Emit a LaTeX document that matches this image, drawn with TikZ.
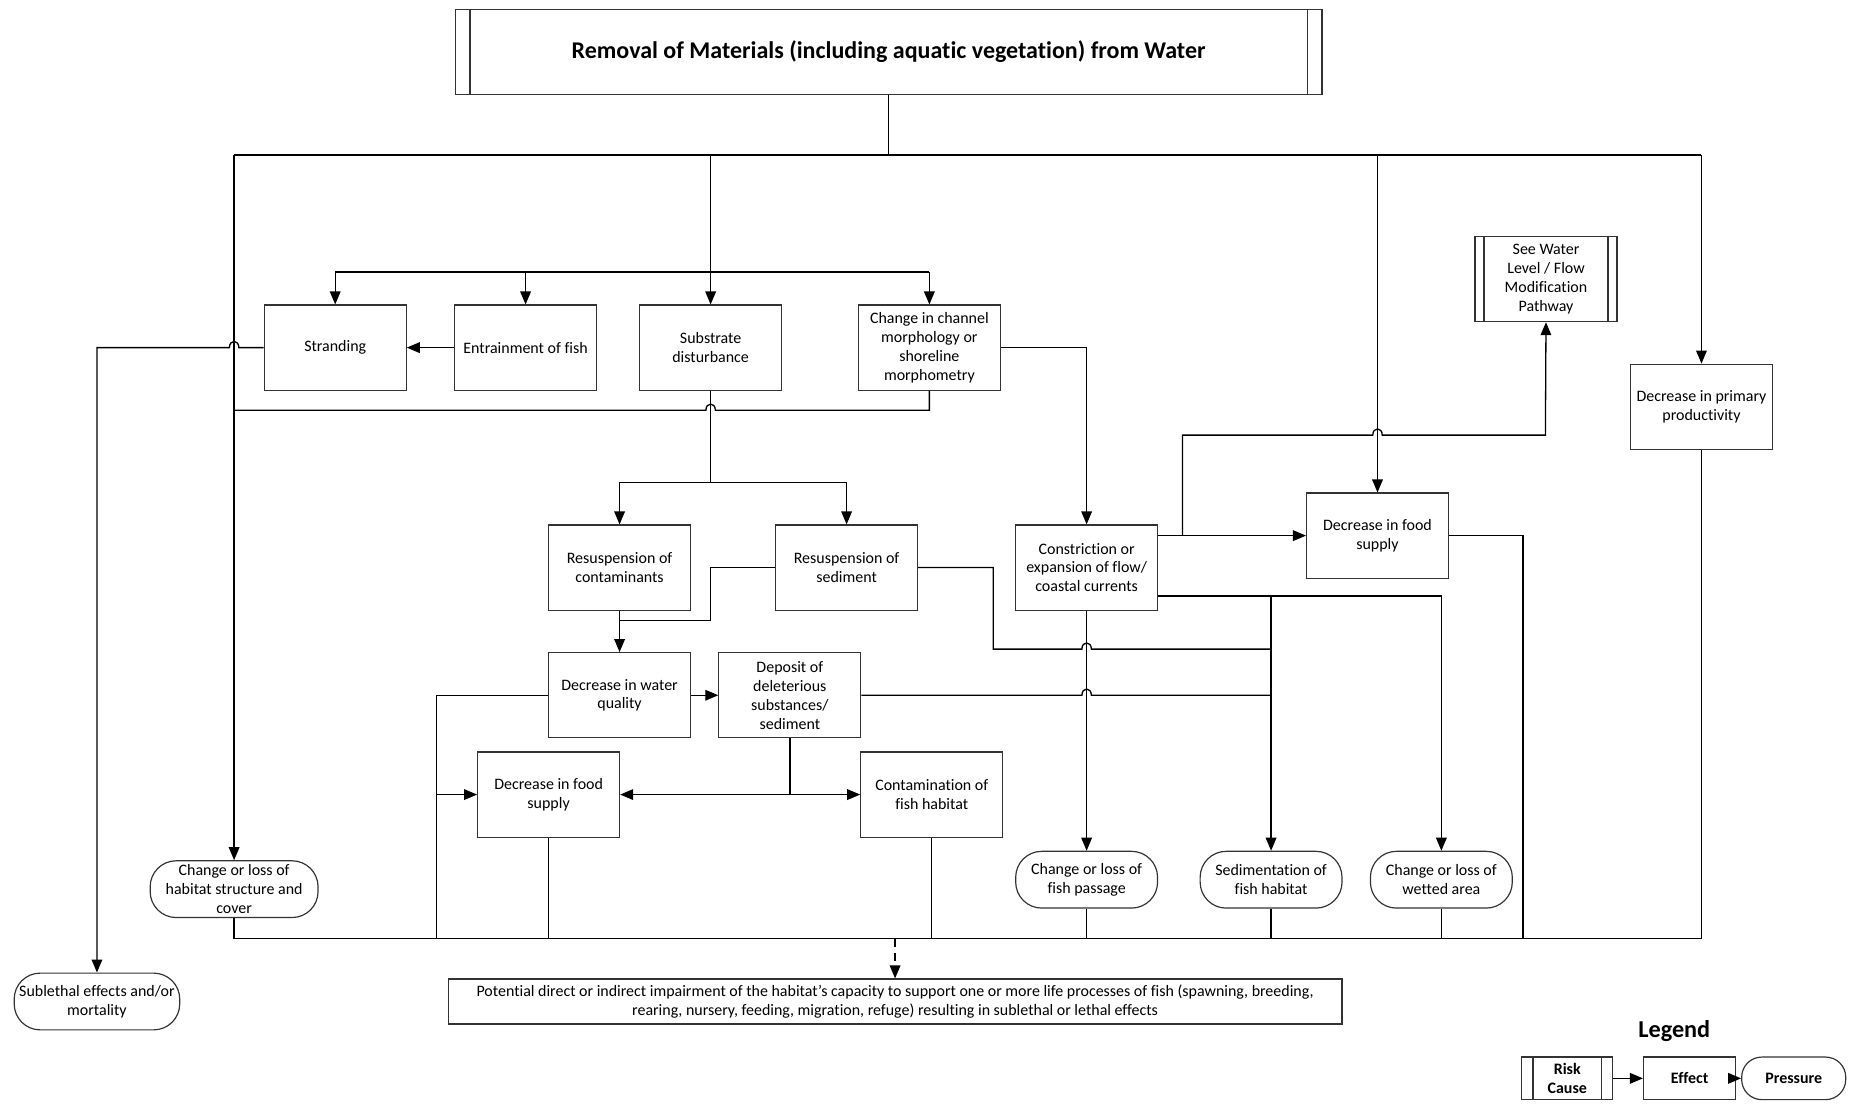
\documentclass[tikz,border=0pt]{standalone}
\usepackage{fontspec}
\setmainfont{Carlito}[Ligatures=CommonOff]
\usetikzlibrary{arrows.meta}
\begin{document}
\begin{tikzpicture}[x=1pt,y=-1pt]
\tikzset{
 base/.style={draw=black!80, line width=1pt, align=center, font=\fontsize{13.5}{16}\selectfont, inner sep=2pt},
 eff/.style={base, minimum width=120pt, minimum height=72pt},
 press/.style={base, rounded corners=22pt, minimum width=120pt, minimum height=48pt},
 ln/.style={line width=1.1pt, black},
 arr/.style={ln, -{Triangle[length=11pt,width=9pt]}},
 bar/.style={draw=black!80, line width=1pt},
}
\useasboundingbox (0,0) rectangle (1568,944);
% title
\node[base, minimum width=733pt, minimum height=72pt, font=\bfseries\fontsize{20.3}{22}\selectfont] (title) at (751.5,44) {Removal of Materials (including aquatic vegetation) from Water};
\draw[bar] ([xshift=13pt]title.north west) -- ([xshift=13pt]title.south west);
\draw[bar] ([xshift=-13pt]title.north east) -- ([xshift=-13pt]title.south east);
% effects
\node[eff] (stranding) at (283.5,294) {Stranding};
\node[eff] (entrain) at (444.5,294) {Entrainment of fish};
\node[eff] (substrate) at (601,294) {Substrate\\disturbance};
\node[eff] (channel) at (786,294) {Change in channel\\morphology or\\shoreline\\morphometry};
\node[eff] (seewater) at (1307.5,236) {See Water\\Level / Flow\\Modification\\Pathway};
\draw[bar] ([xshift=8pt]seewater.north west) -- ([xshift=8pt]seewater.south west);
\draw[bar] ([xshift=-8pt]seewater.north east) -- ([xshift=-8pt]seewater.south east);
\node[eff] (primary) at (1439,344) {Decrease in primary\\productivity};
\node[eff] (rescont) at (524,480) {Resuspension of\\contaminants};
\node[eff] (ressed) at (716,480) {Resuspension of\\sediment};
\node[eff] (constr) at (919,480) {Constriction or\\expansion of flow/\\coastal currents};
\node[eff] (foodR) at (1165,453) {Decrease in food\\supply};
\node[eff] (wq) at (524,588) {Decrease in water\\quality};
\node[eff] (deposit) at (668,588) {Deposit of\\deleterious\\substances/\\sediment};
\node[eff] (foodL) at (464,672) {Decrease in food\\supply};
\node[eff] (contam) at (788,672) {Contamination of\\fish habitat};
% pressures
\node[press, minimum width=142pt] (habstr) at (198,752) {Change or loss of\\habitat structure and\\cover};
\node[press] (passage) at (919,744) {Change or loss of\\fish passage};
\node[press] (sedim) at (1075,744) {Sedimentation of\\fish habitat};
\node[press] (wetted) at (1219,744) {Change or loss of\\wetted area};
\node[press, minimum width=140pt] (sublethal) at (82,847) {Sublethal effects and/or\\mortality};
\node[base, minimum width=756pt, minimum height=38pt] (potential) at (757,847) {Potential direct or indirect impairment of the habitat’s capacity to support one or more life processes of fish (spawning, breeding,\\rearing, nursery, feeding, migration, refuge) resulting in sublethal or lethal effects};
% coordinates
\coordinate (busL) at (198,131);
\coordinate (busR) at (1439,131);
\coordinate (brY) at (0,230);
\coordinate (sj) at (601,408);
\coordinate (busB) at (0,794);
% top bus
\draw[ln] (title.south) -- (title.south |- busL);
\draw[ln] (busL) -- (busR);
\draw[arr] (busL) -- (habstr.north);
\draw[arr] (substrate.north |- busL) -- (substrate.north);
\draw[arr] (foodR.north |- busL) -- (foodR.north);
\draw[arr] (busR) -- (primary.north);
\draw[ln] (stranding.north |- brY) -- (channel.north |- brY);
\draw[arr] (stranding.north |- brY) -- (stranding.north);
\draw[arr] (entrain.north |- brY) -- (entrain.north);
\draw[arr] (channel.north |- brY) -- (channel.north);
% stranding
\draw[arr] (entrain.west) -- (stranding.east);
\draw[arr] (stranding.west) -- (202,294) .. controls (202,287) and (194,287) .. (194,294) -- (sublethal.north |- stranding.west) -- (sublethal.north);
% channel
\draw[ln] (channel.south) -- (786,347) -- (605,347) .. controls (605,340) and (597,340) .. (597,347) -- (198,347);
\draw[arr] (channel.east) -| (constr.north);
% substrate
\draw[ln] (substrate.south) -- (sj);
\draw[arr] (sj) -| (rescont.north);
\draw[arr] (sj) -| (ressed.north);
\draw[arr] (rescont.south) -- (wq.north);
\draw[ln] (ressed.west) -- (601,480) -- (601,525) -- (524,525);
\draw[ln] (ressed.east) -- (840,480) -- (840,549) -- (915,549) .. controls (915,542) and (923,542) .. (923,549) -- (1075,549);
% water quality
\draw[arr] (wq.east) -- (deposit.west);
\draw[ln] (wq.west) -- (369,588) -- (369,794);
\draw[arr] (369,672) -- (foodL.west);
\draw[ln] (deposit.south) -- (668,672);
\draw[arr] (668,672) -- (foodL.east);
\draw[arr] (668,672) -- (contam.west);
\draw[ln] (deposit.east) -- (915,588) .. controls (915,581) and (923,581) .. (923,588) -- (1075,588);
% constriction
\draw[arr] (constr.north east |- foodR.west) -- (foodR.west);
\draw[arr] (1000,453) -- (1000,368) -- (1161,368) .. controls (1161,361) and (1169,361) .. (1169,368) -- (1307,368) -- (seewater.south);
\draw[arr] (979,504) -- (1219,504) -- (wetted.north);
\draw[arr] (1075,504) -- (sedim.north);
\draw[arr] (constr.south) -- (passage.north);
% right side
\draw[ln] (foodR.east) -- (1288,453) -- (1288,794);
\draw[ln] (primary.south) -- (1439,794);
% bottom bus
\draw[ln] (198,794) -- (1439,794);
\draw[ln] (habstr.south) -- (habstr.south |- busB);
\draw[ln] (foodL.south) -- (foodL.south |- busB);
\draw[ln] (contam.south) -- (contam.south |- busB);
\draw[ln] (passage.south) -- (passage.south |- busB);
\draw[ln] (sedim.south) -- (sedim.south |- busB);
\draw[ln] (wetted.south) -- (wetted.south |- busB);
\draw[arr, dash pattern=on 7pt off 5pt] (potential.north |- busB) -- (potential.north);
% legend
\node[font=\bfseries\fontsize{20.5}{22}\selectfont] (legend) at (1416,872) {Legend};
\node[base, font=\bfseries\fontsize{13.5}{16}\selectfont, minimum width=77pt, minimum height=36pt] (lrisk) at (1325.5,912) {Risk\\Cause};
\draw[bar] ([xshift=10pt]lrisk.north west) -- ([xshift=10pt]lrisk.south west);
\draw[bar] ([xshift=-10pt]lrisk.north east) -- ([xshift=-10pt]lrisk.south east);
\node[base, font=\bfseries\fontsize{13.5}{16}\selectfont, minimum width=78pt, minimum height=36pt] (leffect) at (1429,912) {Effect};
\node[base, font=\bfseries\fontsize{13.5}{16}\selectfont, rounded corners=17pt, minimum width=88pt, minimum height=36pt] (lpress) at (1517,912) {Pressure};
\draw[arr] (lrisk.east) -- (leffect.west);
\draw[arr] (leffect.east) -- (lpress.west);
\end{tikzpicture}
\end{document}
